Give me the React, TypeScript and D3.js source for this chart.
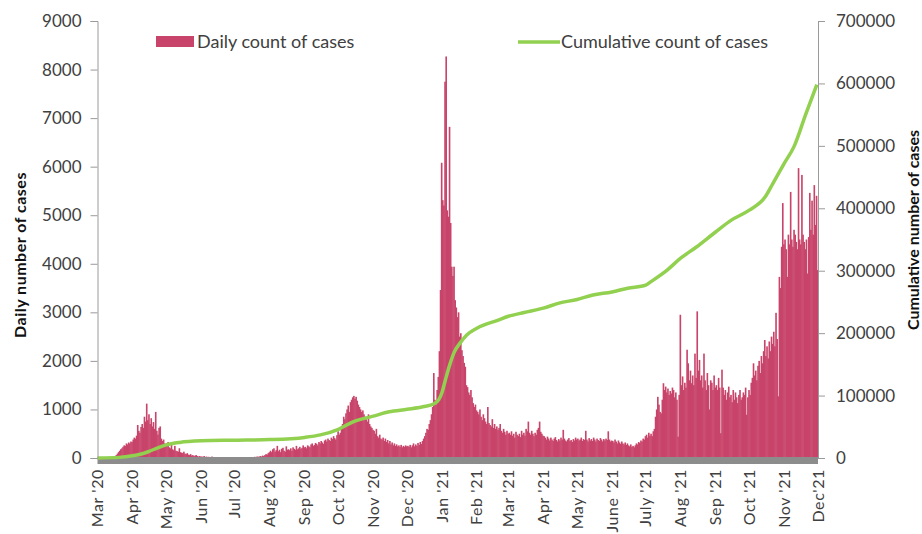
import React, { useEffect, useRef } from "react";
import * as d3 from "d3";

// month tick labels, one per month starting Mar 2020
const monthLabels = [
  "Mar '20", "Apr '20", "May '20", "Jun '20", "Jul '20", "Aug '20", "Sep '20",
  "Oct '20", "Nov '20", "Dec '20", "Jan '21", "Feb '21", "Mar '21", "Apr '21",
  "May '21", "June '21", "July '21", "Aug '21", "Sep '21", "Oct '21", "Nov '21", "Dec'21",
];

// daily counts, one inner array per month (Mar 2020 .. Nov 2021)
const dailyByMonth: number[][] = [
  // Mar '20
  [0, 0, 0, 0, 0, 0, 0, 0, 0, 0, 0, 0, 0, 0, 20, 40, 60, 90, 120, 150, 180, 200, 230, 260, 250, 300, 280, 320, 300, 340, 330],
  // Apr '20
  [380, 420, 400, 460, 680, 560, 520, 640, 700, 620, 850, 750, 1120, 780, 900, 700, 820, 650, 740, 600, 950, 560, 480, 620, 650, 400, 350, 380, 300, 280],
  // May '20
  [250, 330, 220, 200, 280, 180, 160, 250, 150, 140, 130, 200, 120, 110, 100, 130, 90, 80, 100, 70, 60, 80, 50, 60, 40, 50, 60, 40, 30, 40, 30],
  // Jun '20
  [30, 25, 40, 20, 30, 20, 25, 15, 20, 30, 15, 20, 10, 15, 20, 10, 15, 10, 20, 10, 15, 10, 10, 15, 10, 20, 10, 15, 10, 10],
  // Jul '20
  [10, 15, 10, 10, 15, 10, 20, 10, 15, 10, 15, 20, 10, 15, 20, 15, 20, 25, 20, 30, 25, 30, 40, 30, 50, 40, 60, 80, 70, 100, 120],
  // Aug '20
  [150, 120, 180, 200, 130, 160, 250, 140, 170, 120, 190, 210, 150, 130, 240, 170, 180, 160, 200, 150, 220, 190, 170, 250, 180, 200, 230, 190, 210, 260, 220],
  // Sep '20
  [230, 200, 260, 240, 220, 280, 300, 250, 270, 310, 290, 260, 330, 300, 350, 320, 290, 360, 380, 340, 400, 370, 350, 420, 390, 450, 410, 380, 470, 550],
  // Oct '20
  [480, 520, 600, 700, 850, 800, 920, 1000, 1080, 950, 1150, 1200, 1250, 1280, 1220, 1260, 1180, 1100, 1050, 1000, 950, 980, 900, 850, 800, 750, 900, 700, 650, 620, 580],
  // Nov '20
  [560, 500, 600, 450, 420, 480, 400, 380, 420, 350, 400, 330, 370, 300, 350, 280, 320, 260, 300, 250, 280, 240, 260, 230, 270, 220, 250, 230, 260, 240],
  // Dec '20
  [250, 230, 270, 220, 260, 300, 240, 280, 250, 310, 270, 330, 290, 350, 400, 450, 520, 600, 580, 700, 780, 900, 1050, 1750, 1200, 1100, 1400, 1670, 2200, 3460, 6080],
  // Jan '21
  [5310, 5200, 7750, 8270, 5100, 4970, 6820, 4840, 3940, 3750, 3940, 3250, 3100, 2900, 3000, 2500, 2570, 2220, 2100, 1960, 1880, 1500, 1460, 1350, 1300, 1400, 1250, 1130, 1050, 1100, 980],
  // Feb '21
  [950, 900, 1000, 850, 780, 900, 820, 750, 700, 1050, 720, 680, 650, 800, 620, 700, 600, 650, 580, 620, 700, 560, 520, 600, 540, 480, 560, 500],
  // Mar '21
  [520, 480, 550, 460, 500, 420, 540, 480, 450, 500, 430, 560, 480, 520, 460, 600, 550, 750, 520, 480, 560, 500, 450, 520, 480, 580, 620, 750, 540, 500, 460],
  // Apr '21
  [450, 420, 380, 440, 400, 360, 420, 380, 350, 400, 430, 370, 340, 390, 360, 420, 380, 580, 400, 360, 340, 380, 410, 350, 370, 330, 390, 360, 420, 380],
  // May '21
  [400, 360, 380, 420, 350, 390, 370, 560, 380, 340, 410, 360, 390, 350, 420, 380, 340, 400, 370, 350, 410, 380, 340, 390, 360, 400, 370, 550, 380, 340, 360],
  // Jun '21
  [350, 320, 380, 340, 300, 360, 320, 290, 340, 300, 280, 320, 270, 300, 260, 240, 280, 230, 250, 220, 260, 300, 280, 330, 310, 360, 340, 400, 380, 450],
  // Jul '21
  [480, 420, 520, 460, 500, 450, 550, 600, 850, 1000, 1260, 1100, 950, 920, 1200, 1540, 1400, 1470, 1350, 1430, 1300, 1380, 1330, 1450, 1400, 1250, 1350, 1200, 440, 1300, 2950],
  // Aug '21
  [1500, 1680, 1400, 1550, 1450, 2230, 1950, 1600, 1800, 1540, 1700, 1500, 2150, 1650, 3020, 1800, 2020, 1600, 1700, 1450, 2150, 1600, 1400, 1750, 1500, 1000, 1600, 1550, 1400, 1700, 1450],
  // Sep '21
  [1500, 1400, 1650, 1450, 510, 1820, 1450, 1300, 1400, 1200, 1350, 1470, 1250, 1300, 1150, 1400, 1200, 1350, 1250, 1130, 1300, 1400, 1200, 1250, 1350, 1300, 1450, 890, 1250, 1400],
  // Oct '21
  [1300, 1550, 1650, 1950, 1700, 1800, 1600, 1900, 2000, 1750, 2100, 1950, 2200, 2430, 2100, 2300, 2050, 2400, 2200, 2500, 2350, 2600, 2300, 2990, 2450, 1270, 3730, 3500, 4350, 5250, 4400],
  // Nov '21
  [4500, 4300, 3730, 4600, 4400, 5480, 4500, 4350, 4700, 4600, 4450, 4300, 5970, 4500, 4400, 5830, 4600, 4450, 4300, 4500, 3800, 4550, 5460, 4700, 5300, 4600, 5620, 4800, 5400, 3870],
];

// cumulative count, read at these dates
const cumulativeDates = [
  "2020-03-01", "2020-03-20", "2020-04-01", "2020-04-08", "2020-04-15", "2020-04-23", "2020-05-01",
  "2020-05-13", "2020-06-01", "2020-07-01", "2020-08-01", "2020-09-01", "2020-09-15", "2020-10-01",
  "2020-10-14", "2020-11-01", "2020-11-15", "2020-12-01", "2020-12-15", "2020-12-25", "2020-12-29",
  "2021-01-01", "2021-01-04", "2021-01-08", "2021-01-12", "2021-01-17", "2021-01-23", "2021-02-01",
  "2021-02-20", "2021-03-01", "2021-03-15", "2021-04-01", "2021-04-15", "2021-05-01", "2021-05-15",
  "2021-06-01", "2021-06-15", "2021-07-01", "2021-07-06", "2021-07-20", "2021-08-01", "2021-08-15",
  "2021-09-01", "2021-09-15", "2021-10-01", "2021-10-15", "2021-10-22", "2021-11-01", "2021-11-10",
  "2021-11-20", "2021-11-30",
];
const cumulativeCases = [
  0, 1000, 3500, 6000, 10000, 16000, 21000,
  25000, 27500, 28500, 29500, 33000, 37000, 46000,
  58000, 67000, 74000, 78000, 82000, 87000, 93000,
  105000, 125000, 150000, 170000, 184000, 197000, 208000,
  221000, 227000, 233000, 240000, 248000, 254000, 261000,
  266000, 272000, 277000, 283000, 301000, 320000, 338000,
  362000, 381000, 397000, 418000, 440000, 472000, 500000,
  550000, 598000,
];

const leftTicks = [0, 1000, 2000, 3000, 4000, 5000, 6000, 7000, 8000, 9000];
const rightTicks = [0, 100000, 200000, 300000, 400000, 500000, 600000, 700000];

const App: React.FC = () => {
  const ref = useRef<SVGSVGElement>(null);

  useEffect(() => {
    const width = 922;
    const height = 534;
    const left = 97.5;
    const right = 818;
    const top = 21;
    const bottom = 458;
    const font = "Lato, 'Open Sans', sans-serif";
    const barColor = "#c8446a";
    const lineColor = "#92d050";

    const start = new Date(2020, 2, 1);
    const end = new Date(2021, 11, 1);

    const daily: { date: Date; value: number }[] = [];
    dailyByMonth.forEach((days, m) => {
      const monthStart = d3.timeMonth.offset(start, m);
      days.forEach((v, i) => daily.push({ date: d3.timeDay.offset(monthStart, i), value: v }));
    });

    const cumulative = cumulativeDates.map((d, i) => ({
      date: d3.timeParse("%Y-%m-%d")(d) as Date,
      value: cumulativeCases[i],
    }));

    const x = d3.scaleTime().domain([start, end]).range([left, right]);
    const yLeft = d3.scaleLinear().domain([0, 9000]).range([bottom, top]);
    const yRight = d3.scaleLinear().domain([0, 700000]).range([bottom, top]);

    const svg = d3.select(ref.current).attr("width", width).attr("height", height);
    svg.selectAll("*").remove();

    svg.append("rect").attr("width", width).attr("height", height).attr("fill", "#fff");

    // bars
    svg
      .append("g")
      .selectAll("rect")
      .data(daily)
      .enter()
      .append("rect")
      .attr("x", (d) => x(d.date))
      .attr("width", (d) => x(d3.timeDay.offset(d.date, 1)) - x(d.date) + 0.5)
      .attr("y", (d) => yLeft(d.value))
      .attr("height", (d) => bottom - yLeft(d.value))
      .attr("fill", barColor);

    // grey baseline band
    svg
      .append("rect")
      .attr("x", left)
      .attr("y", bottom - 1)
      .attr("width", right - left)
      .attr("height", 7)
      .attr("fill", "#8c8c8c");

    // cumulative line
    svg
      .append("path")
      .datum(cumulative)
      .attr("fill", "none")
      .attr("stroke", lineColor)
      .attr("stroke-width", 3.5)
      .attr("stroke-linejoin", "round")
      .attr(
        "d",
        d3
          .line<{ date: Date; value: number }>()
          .x((d) => x(d.date))
          .y((d) => yRight(d.value))
          .curve(d3.curveMonotoneX)
      );

    // left axis
    const yAxisL = d3.axisLeft(yLeft).tickValues(leftTicks).tickFormat(d3.format("d")).tickSize(7).tickPadding(9);
    const gl = svg.append("g").attr("transform", `translate(${left},0)`).call(yAxisL);
    gl.select(".domain").attr("stroke", "#9a9a9a");
    gl.selectAll(".tick line").attr("stroke", "#9a9a9a");
    gl.selectAll(".tick text").attr("fill", "#404040").attr("font-size", 17).attr("font-family", font);

    // right axis
    const yAxisR = d3.axisRight(yRight).tickValues(rightTicks).tickFormat(d3.format("d")).tickSize(7).tickPadding(11);
    const gr = svg.append("g").attr("transform", `translate(${right},0)`).call(yAxisR);
    gr.select(".domain").attr("stroke", "#9a9a9a");
    gr.selectAll(".tick line").attr("stroke", "#9a9a9a");
    gr.selectAll(".tick text").attr("fill", "#404040").attr("font-size", 17).attr("font-family", font);

    // month labels
    svg
      .append("g")
      .selectAll("text")
      .data(monthLabels)
      .enter()
      .append("text")
      .attr("transform", (_, i) => `translate(${x(d3.timeMonth.offset(start, i))},469) rotate(-90)`)
      .attr("text-anchor", "end")
      .attr("dy", "0.35em")
      .attr("fill", "#404040")
      .attr("font-size", 16)
      .attr("letter-spacing", 0.6)
      .attr("font-family", font)
      .text((d) => d);

    // axis titles
    svg
      .append("text")
      .attr("transform", "translate(20,255) rotate(-90)")
      .attr("text-anchor", "middle")
      .attr("dy", "0.35em")
      .attr("font-weight", "bold")
      .attr("font-size", 16)
      .attr("letter-spacing", 0.5)
      .attr("font-family", font)
      .attr("fill", "#111")
      .text("Daily number of cases");

    svg
      .append("text")
      .attr("transform", "translate(913,230) rotate(-90)")
      .attr("text-anchor", "middle")
      .attr("dy", "0.35em")
      .attr("font-weight", "bold")
      .attr("font-size", 16)
      .attr("font-family", font)
      .attr("fill", "#111")
      .text("Cumulative number of cases");

    // legend
    const legend = svg.append("g").attr("font-family", font).attr("font-size", 18).attr("fill", "#404040");
    legend.append("rect").attr("x", 156).attr("y", 36).attr("width", 38).attr("height", 11).attr("fill", barColor);
    legend.append("text").attr("x", 197).attr("y", 42).attr("dy", "0.35em").text("Daily count of cases");
    legend
      .append("line")
      .attr("x1", 518)
      .attr("x2", 560)
      .attr("y1", 42)
      .attr("y2", 42)
      .attr("stroke", lineColor)
      .attr("stroke-width", 3.5);
    legend.append("text").attr("x", 561).attr("y", 42).attr("dy", "0.35em").text("Cumulative count of cases");
  }, []);

  return <svg ref={ref} style={{ position: "absolute", left: 0, top: 0 }}></svg>;
};

export default App;
